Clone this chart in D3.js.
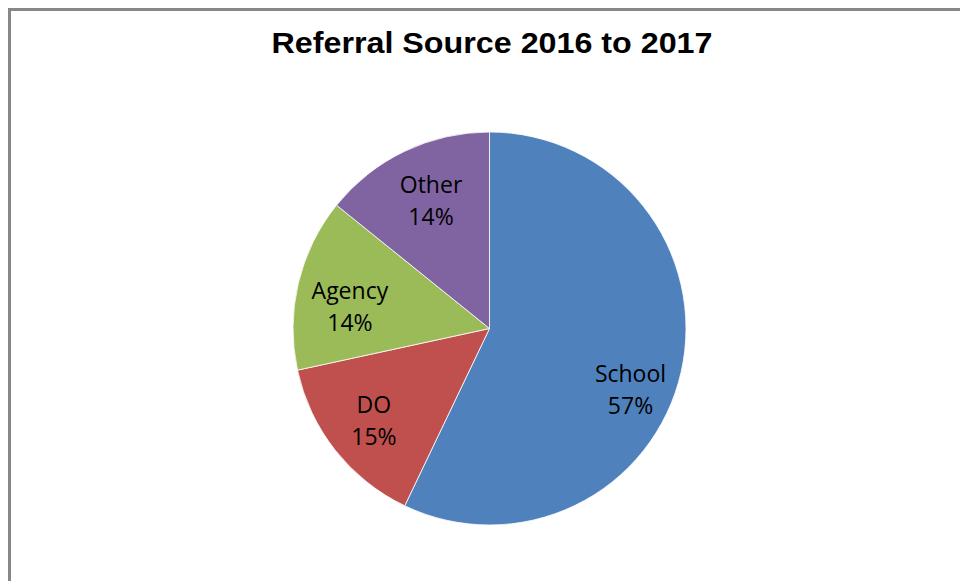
<!DOCTYPE html>
<html>
<head>
<meta charset="utf-8">
<script src="https://cdn.jsdelivr.net/npm/d3@7"></script>
<style>
  body { margin: 0; background: #fff; }
  svg { display: block; }
</style>
</head>
<body>
<svg id="chart"></svg>
<script>
var categories = ["School", "DO", "Agency", "Other"];
var values = [57.1, 14.5, 14.2, 14.2];
var colors = ["#4F81BD", "#C0504D", "#9BBB59", "#8064A2"];
var title = "Referral Source 2016 to 2017";

var width = 960, height = 581;
var cx = 489.5, cy = 328.5, r = 196.5;

var svg = d3.select("#chart")
    .attr("width", width)
    .attr("height", height);

svg.append("rect")
    .attr("width", width).attr("height", height)
    .attr("fill", "#fff");

// chart area border (runs off the right and bottom edge)
svg.append("rect")
    .attr("x", 9.5).attr("y", 9.5)
    .attr("width", width + 20).attr("height", height + 20)
    .attr("fill", "none")
    .attr("stroke", "#878787")
    .attr("stroke-width", 3);

svg.append("text")
    .attr("x", 492).attr("y", 53)
    .attr("text-anchor", "middle")
    .attr("font-family", "Liberation Sans, Arial, sans-serif")
    .attr("font-weight", "bold")
    .attr("font-size", 29)
    .attr("textLength", 441)
    .attr("lengthAdjust", "spacingAndGlyphs")
    .attr("fill", "#000")
    .text(title);

var data = categories.map(function(c, i) {
    return { name: c, value: values[i], color: colors[i] };
});

var pie = d3.pie().sort(null).value(function(d) { return d.value; });
var arcs = pie(data);
var arc = d3.arc().innerRadius(0).outerRadius(r);

var g = svg.append("g").attr("transform", "translate(" + cx + "," + cy + ")");

g.selectAll("path")
    .data(arcs)
    .enter()
    .append("path")
    .attr("d", arc)
    .attr("fill", function(d) { return d.data.color; })
    .attr("stroke", "#fff")
    .attr("stroke-width", 0.8);

// Excel "best fit" label spots: radius fraction and angle nudge (rad)
var labelFit = { School: [0.78, 0.18], DO: [0.75, 0], Agency: [0.72, -0.07], Other: [0.72, 0.02] };

function labelPos(d) {
    var f = labelFit[d.data.name];
    var a = (d.startAngle + d.endAngle) / 2 + f[1];
    var rr = r * f[0];
    return [Math.sin(a) * rr, -Math.cos(a) * rr];
}

var labels = g.selectAll("g.lbl")
    .data(arcs)
    .enter()
    .append("g")
    .attr("class", "lbl")
    .attr("transform", function(d) {
        var p = labelPos(d);
        return "translate(" + p[0] + "," + p[1] + ")";
    })
    .attr("font-family", "Open Sans, sans-serif")
    .attr("font-size", 23)
    .attr("fill", "#000")
    .attr("text-anchor", "middle");

labels.append("text")
    .attr("y", -7)
    .text(function(d) { return d.data.name; });

labels.append("text")
    .attr("y", 25)
    .text(function(d) { return Math.round(d.data.value) + "%"; });
</script>
</body>
</html>
